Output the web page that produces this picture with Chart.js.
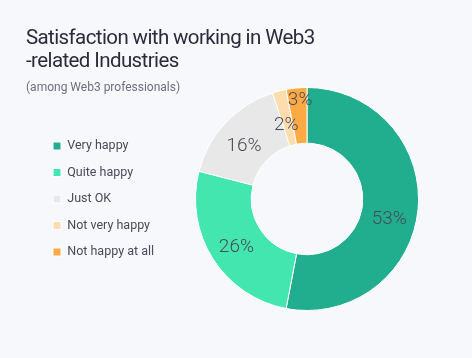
<!DOCTYPE html>
<html>
<head>
<meta charset="utf-8">
<script src="https://cdn.jsdelivr.net/npm/chart.js@4/dist/chart.umd.min.js"></script>
<style>
  html, body { margin: 0; padding: 0; background: #f7f8fc; }
  #wrap { position: relative; width: 472px; height: 358px; background: #f7f8fc; overflow: hidden; }
  #title { position: absolute; left: 26px; top: 26px; font-family: Roboto, "Noto Sans", sans-serif; font-size: 20.5px; letter-spacing: -0.6px; line-height: 23px; color: #2b2b3d; }
  #sub { position: absolute; left: 26px; top: 80px; font-family: Roboto, "Noto Sans", sans-serif; font-size: 12px; color: #6e6e80; }
  canvas { position: absolute; left: 0; top: 0; }
</style>
</head>
<body>
<div id="wrap">
  <canvas id="c" width="472" height="358"></canvas>
  <div id="title">Satisfaction with working in Web3<br>-related Industries</div>
  <div id="sub">(among Web3 professionals)</div>
</div>
<script>
const categories = ["Very happy", "Quite happy", "Just OK", "Not very happy", "Not happy at all"];
const shares = [53, 26, 16, 2, 3];
const sliceColors = ["#20ae8e", "#44e6b0", "#e8e8e8", "#fddcad", "#fdaa45"];

const sliceLabels = {
  id: 'sliceLabels',
  afterDatasetsDraw(chart, args, opts) {
    const meta = chart.getDatasetMeta(0);
    const ctx = chart.ctx;
    ctx.save();
    ctx.font = opts.font;
    ctx.fillStyle = opts.color;
    ctx.textAlign = 'center';
    ctx.textBaseline = 'middle';
    meta.data.forEach((arc, i) => {
      const mid = (arc.startAngle + arc.endAngle) / 2;
      const r = (arc.innerRadius + arc.outerRadius) / 2;
      const nudge = opts.nudge[i];
      const x = arc.x + Math.cos(mid) * r + nudge[0];
      const y = arc.y + Math.sin(mid) * r + nudge[1];
      ctx.fillText(shares[i] + '%', x, y);
    });
    ctx.restore();
  }
};

new Chart(document.getElementById('c'), {
  type: 'doughnut',
  data: {
    labels: categories,
    datasets: [{
      data: shares,
      backgroundColor: sliceColors,
      borderColor: '#ffffff',
      borderWidth: 1,
      hoverOffset: 0
    }]
  },
  options: {
    responsive: false,
    animation: false,
    cutout: '50%',
    layout: { padding: { left: 39, top: 87, bottom: 47, right: 22 } },
    plugins: {
      tooltip: { enabled: false },
      title: { display: false },
      legend: {
        position: 'left',
        align: 'center',
        labels: {
          boxWidth: 8,
          boxHeight: 8,
          padding: 14,
          color: '#4a4a5a',
          font: { family: 'Roboto, "Noto Sans", sans-serif', size: 12.5 }
        }
      },
      sliceLabels: {
        font: '300 19px Roboto, "Noto Sans", sans-serif',
        color: '#4a4a55',
        nudge: [[-1, 12], [0, 3], [-2, 4], [0, 7], [1, -15]]
      }
    }
  },
  plugins: [sliceLabels]
});
</script>
</body>
</html>
